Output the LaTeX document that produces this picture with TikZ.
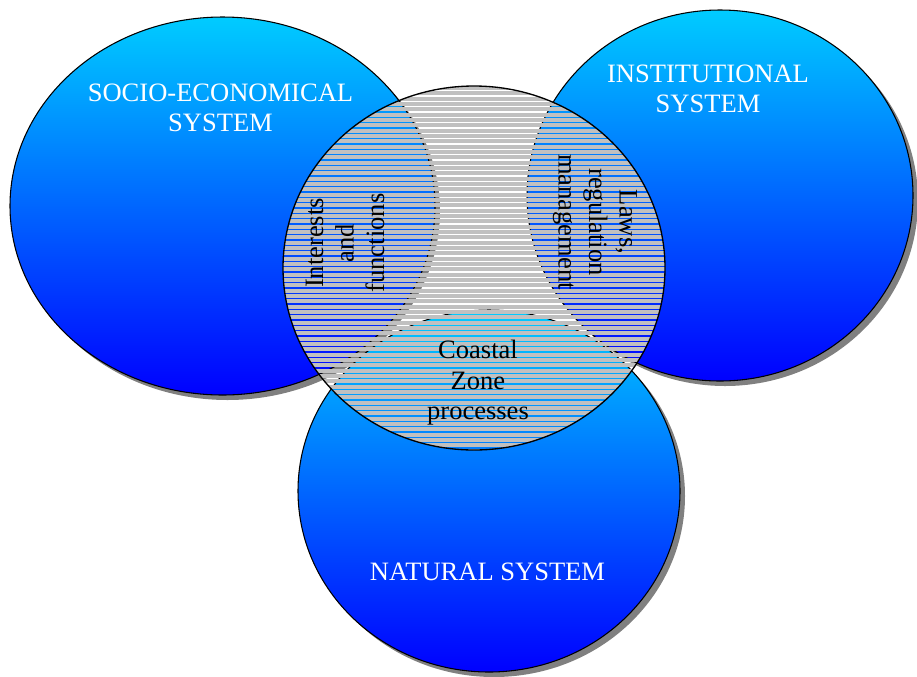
\documentclass[tikz,border=0pt]{standalone}
\usepackage{fontspec}
\setmainfont{Liberation Serif}
\usetikzlibrary{shapes.geometric,shadows}
\definecolor{topcyan}{RGB}{0,204,255}
\definecolor{botblue}{RGB}{0,0,255}
\definecolor{stripegray}{RGB}{192,192,192}
\definecolor{shadowgray}{RGB}{128,128,128}

\begin{document}
\begin{tikzpicture}[
    x=0.75pt, y=-0.75pt,
    every node/.style={font=\fontsize{19.9}{22.9}\selectfont},
    system/.style={ellipse, draw=black, line width=0.8pt, inner sep=0pt, top color=topcyan, bottom color=botblue,
        drop shadow={shadow xshift=3.75pt, shadow yshift=-3.75pt, fill=shadowgray, opacity=1}},
    heading/.style={text=white, align=center},
    innertext/.style={text=black, align=center},
    stripeline/.style={stripegray, line width=3pt}
]
\useasboundingbox (0,0) rectangle (917,676);
% the three systems
\node[system, minimum width=318.75pt, minimum height=283.5pt] (socio) at (222.5,206) {};
\node[system, minimum width=289.5pt, minimum height=278.25pt] (inst) at (720,195.5) {};
\node[system, minimum width=286.5pt, minimum height=271.5pt] (nat) at (489,491) {};
% coastal zone, hatched
\node[ellipse, draw=black, line width=1pt, inner sep=0pt, minimum width=286.5pt, minimum height=273pt,
    path picture={\foreach \k in {0,...,72}
        \draw[stripeline] ([yshift=-\k*4pt-1.5pt]path picture bounding box.north west) -- ([yshift=-\k*4pt-1.5pt]path picture bounding box.north east);}]
    (coast) at (474,268) {};
% labels
\node[heading] (socioText) at (220.5,108) {SOCIO-ECONOMICAL\\SYSTEM};
\node[heading] (instText) at (708,89) {INSTITUTIONAL\\SYSTEM};
\node[heading] (natText) at (487.5,572) {NATURAL SYSTEM};
\node[innertext, rotate=90] (interText) at (345,243) {Interests\\and\\functions};
\node[innertext, rotate=-90] (lawsText) at (595,222) {Laws,\\regulation\\management};
\node[innertext] (coastText) at (478,383) {Coastal\\Zone\\processes};
\end{tikzpicture}
\end{document}
